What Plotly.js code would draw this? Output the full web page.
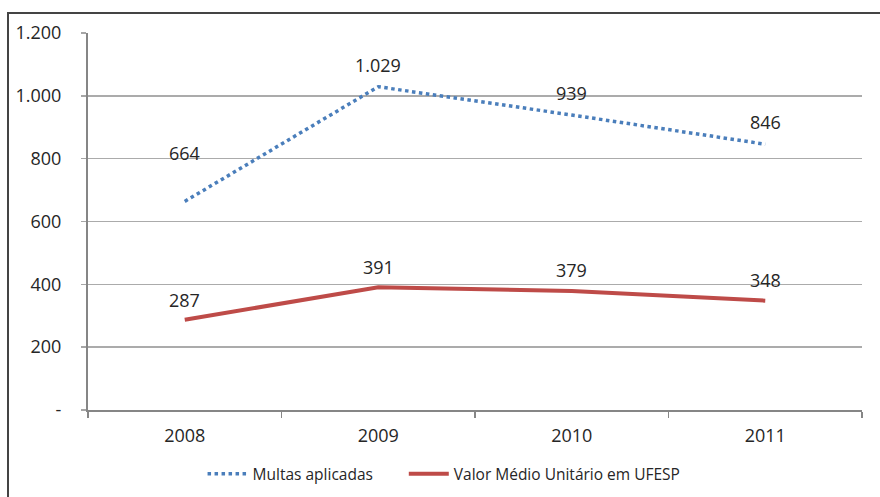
<!DOCTYPE html>
<html>
<head>
<meta charset="utf-8">
<script src="https://cdn.plot.ly/plotly-3.0.1.min.js"></script>
<style>
  body { margin: 0; background: #fff; }
  #chart { position: absolute; left: 0; top: 0; width: 880px; height: 497px; }
  #frame { position: absolute; left: 7px; top: 12px; width: 900px; height: 520px;
           border-left: 2px solid #444; border-top: 2px solid #444; pointer-events: none; }
</style>
</head>
<body>
<div id="chart"></div>
<div id="frame"></div>
<script>
// categorias e séries
const anos = ["2008", "2009", "2010", "2011"];
const multas = [664, 1029, 939, 846];
const valorMedio = [287, 391, 379, 348];
const rotulosMultas = ["664", "1.029", "939", "846"];
const rotulosValor = ["287", "391", "379", "348"];
const yTicks = [0, 200, 400, 600, 800, 1000, 1200];
const yTickText = ["-", "200", "400", "600", "800", "1.000", "1.200"];

const fonte = {family: "Open Sans, Noto Sans, sans-serif", size: 18, color: "#262626"};
const fonteLegenda = {family: "Open Sans, Noto Sans, sans-serif", size: 15.5, color: "#262626"};

// deslocamento vertical dos rótulos (px)
const desvioMultas = [48, 22, 22, 22];
const desvioValor = [20, 20, 21, 21];

const anotacoes = [];
anos.forEach((a, i) => {
    // x pelo índice da categoria
    anotacoes.push({x: i, y: multas[i], text: rotulosMultas[i], showarrow: false,
        yshift: desvioMultas[i], font: fonte});
    anotacoes.push({x: i, y: valorMedio[i], text: rotulosValor[i], showarrow: false,
        yshift: desvioValor[i], font: fonte});
});

// uma legenda para cada série, para controlar o espaçamento
const legendaBase = {orientation: "h", xanchor: "left", y: -0.17, yanchor: "middle",
    font: fonteLegenda, itemwidth: 40};

Plotly.newPlot("chart", [{
    x: anos, y: multas, name: "Multas aplicadas",
    type: "scatter", mode: "lines", legend: "legend",
    line: {color: "#4A7EBB", width: 3.5, dash: "dot"}
}, {
    x: anos, y: valorMedio, name: "Valor Médio Unitário em UFESP",
    type: "scatter", mode: "lines", legend: "legend2",
    line: {color: "#BE4B48", width: 4}
}], {
    width: 880, height: 497,
    margin: {l: 88, r: 18, t: 33, b: 87, autoexpand: false},
    paper_bgcolor: "#fff", plot_bgcolor: "#fff",
    showlegend: true,
    legend: {...legendaBase, x: 0.148},
    legend2: {...legendaBase, x: 0.408},
    xaxis: {
        type: "category", range: [-0.5, 3.5],
        showline: true, linecolor: "#868686", linewidth: 2,
        ticks: "outside", tickson: "boundaries", ticklen: 6, tickcolor: "#868686", tickwidth: 1.5,
        showgrid: false, tickfont: fonte, ticklabelstandoff: 8,
        zeroline: false
    },
    yaxis: {
        range: [0, 1200], tickvals: yTicks, ticktext: yTickText,
        showline: true, linecolor: "#868686", linewidth: 2,
        ticks: "outside", ticklen: 5, tickcolor: "#A6A6A6", tickwidth: 1.5,
        showgrid: true, gridcolor: "#ABABAB", gridwidth: 1.5,
        zeroline: false, tickfont: fonte, ticklabelstandoff: 16
    },
    annotations: anotacoes
}, {displayModeBar: false, staticPlot: true});
</script>
</body>
</html>
